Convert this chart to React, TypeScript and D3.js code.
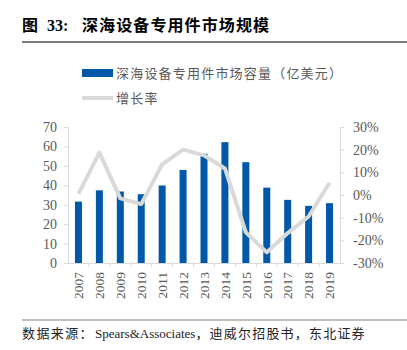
import * as d3 from "d3";
import { useEffect, useRef } from "react";

const years = ["2007", "2008", "2009", "2010", "2011", "2012", "2013", "2014", "2015", "2016", "2017", "2018", "2019"];
const marketSize = [31.6, 37.4, 36.8, 35.4, 39.9, 47.9, 56.2, 62.2, 51.9, 38.8, 32.5, 29.4, 30.8];
const growthRate = [0.5, 18.7, -1.5, -4, 13.5, 20, 17.5, 11.7, -16.5, -25.3, -16.8, -9.5, 5.4];
const leftTicks = [0, 10, 20, 30, 40, 50, 60, 70];
const rightTicks = [-30, -20, -10, 0, 10, 20, 30];

const serif = "'Liberation Serif', 'Times New Roman', serif";
const cjk = "'Noto Sans CJK SC', sans-serif";

function App() {
  const svgRef = useRef<SVGSVGElement>(null);

  useEffect(() => {
    const svg = d3.select(svgRef.current);
    svg.selectAll("*").remove();

    const left = 68, right = 340, top = 127, bottom = 263;
    const x = d3.scaleBand().domain(years).range([left, right]);
    const yL = d3.scaleLinear().domain([0, 70]).range([bottom, top]);
    const yR = d3.scaleLinear().domain([-30, 30]).range([bottom, top]);
    const axisColor = "#d9d9d9";
    const textColor = "#595959";

    // title
    const title = svg.append("text").attr("x", 22).attr("y", 31)
      .attr("font-family", serif).attr("font-weight", "bold").attr("font-size", 16);
    title.append("tspan").attr("font-family", cjk).text("图");
    title.append("tspan").attr("x", 47).text("33:");
    title.append("tspan").attr("x", 82).attr("font-family", cjk).attr("letter-spacing", 1.1)
      .text("深海设备专用件市场规模");
    svg.append("line").attr("x1", 22).attr("x2", 407).attr("y1", 42).attr("y2", 42)
      .attr("stroke", "#7f7f7f").attr("stroke-width", 2);

    // legend
    svg.append("rect").attr("x", 82).attr("y", 69).attr("width", 31).attr("height", 8).attr("fill", "#0058a8");
    svg.append("text").attr("x", 116).attr("y", 78).attr("font-family", cjk).attr("font-size", 13)
      .attr("letter-spacing", 1.2).attr("fill", textColor).text("深海设备专用件市场容量（亿美元）");
    svg.append("line").attr("x1", 82).attr("x2", 113).attr("y1", 98).attr("y2", 98)
      .attr("stroke", axisColor).attr("stroke-width", 4);
    svg.append("text").attr("x", 116).attr("y", 103).attr("font-family", cjk).attr("font-size", 13)
      .attr("letter-spacing", 1.2).attr("fill", textColor).text("增长率");

    // axes
    const gL = svg.append("g").attr("transform", `translate(${left},0)`)
      .call(d3.axisLeft(yL).tickValues(leftTicks).tickSize(4).tickPadding(7));
    const gR = svg.append("g").attr("transform", `translate(${right},0)`)
      .call(d3.axisRight(yR).tickValues(rightTicks).tickSize(4).tickPadding(9).tickFormat((d) => `${d}%`));
    const gB = svg.append("g").attr("transform", `translate(0,${bottom})`)
      .call(d3.axisBottom(x).tickSize(0).tickPadding(0));
    [gL, gR, gB].forEach((g) => {
      g.select(".domain").attr("stroke", axisColor);
      g.selectAll(".tick line").attr("stroke", axisColor);
      g.selectAll("text").attr("font-family", serif).attr("font-size", 14).attr("fill", textColor);
    });
    gB.selectAll(".tick text")
      .attr("font-size", 13.5)
      .attr("transform", "rotate(-90)")
      .attr("text-anchor", "end")
      .attr("dy", "0.35em")
      .attr("x", -9).attr("y", 0);
    gB.selectAll(".sep").data(years.slice(1)).join("line").attr("class", "sep")
      .attr("x1", (d) => x(d)!).attr("x2", (d) => x(d)!).attr("y1", 0).attr("y2", 4)
      .attr("stroke", axisColor);

    // bars
    const bw = 7;
    svg.append("g").selectAll("rect").data(marketSize).join("rect")
      .attr("x", (_, i) => x(years[i])! + x.bandwidth() / 2 - bw / 2)
      .attr("width", bw)
      .attr("y", (d) => yL(d))
      .attr("height", (d) => bottom - yL(d))
      .attr("fill", "#0058a8");

    // line
    const line = d3.line<number>()
      .x((_, i) => x(years[i])! + x.bandwidth() / 2)
      .y((d) => yR(d));
    svg.append("path").datum(growthRate).attr("d", line)
      .attr("fill", "none").attr("stroke", "#d9d9d9").attr("stroke-width", 4)
      .attr("stroke-linejoin", "round");

    // footer
    svg.append("line").attr("x1", 22).attr("x2", 407).attr("y1", 320).attr("y2", 320)
      .attr("stroke", "#7f7f7f").attr("stroke-width", 1);
    const foot = svg.append("text").attr("x", 22).attr("y", 338).attr("font-size", 13).attr("fill", "#222")
      .attr("font-family", serif);
    foot.append("tspan").attr("font-family", cjk).attr("letter-spacing", 1.4).text("数据来源：");
    foot.append("tspan").attr("x", 95).text("Spears&Associates");
    foot.append("tspan").attr("font-family", cjk).attr("letter-spacing", 1.2).text("，迪威尔招股书，东北证券");
  }, []);

  return (
    <svg ref={svgRef} width={407} height={350} style={{ position: "absolute", left: 0, top: 0 }} />
  );
}

export default App;
